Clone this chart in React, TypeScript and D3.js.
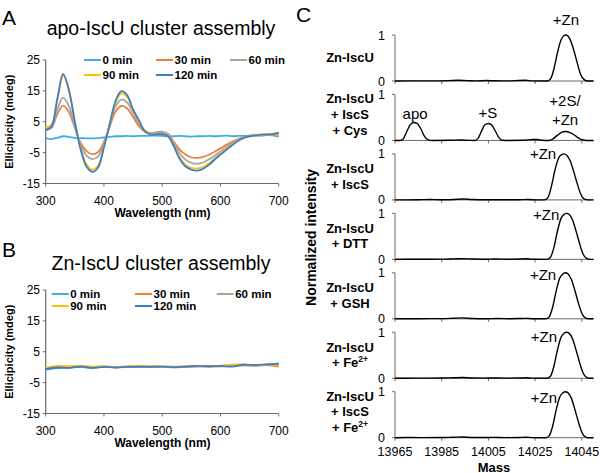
import React from 'react';
import * as d3 from 'd3';

const FONT = "'Liberation Sans', Arial, Helvetica, sans-serif";
const AXIS = '#6a6a6a';

// ---- CD spectra (panel A: apo-IscU) ----
const wavelengthsA = [
  300, 310, 320, 330, 340, 350, 360, 370, 380, 390, 400, 410, 420, 430, 440, 450, 460, 470, 480, 490, 500,
  510, 520, 530, 540, 550, 560, 570, 580, 590, 600, 610, 620, 630, 640, 650, 660, 670, 680, 690, 700,
];
const apo0 = [
  -0.3, -0.6, -0.2, 0.3, 0.1, -0.2, -0.3, -0.4, -0.4, -0.3, -0.1, 0.1, 0.3, 0.3, 0.4, 0.3, 0.4, 0.4, 0.5, 0.5, 0.4,
  0.3, 0.3, 0.4, 0.3, 0.2, 0.3, 0.3, 0.4, 0.3, 0.4, 0.5, 0.3, 0.4, 0.4, 0.5, 0.6, 0.5, 0.7, 0.6, 0.2,
];
const apo30 = [
  2.3, 3.0, 7.5, 10.2, 8.0, 3.0, -1.8, -4.5, -5.5, -4.8, -1.5, 3.5, 8.3, 10.1, 9.3, 6.5, 3.6, 1.8, 1.2, 1.4, 1.6,
  1.0, -1.5, -4.0, -5.6, -6.5, -6.7, -6.4, -5.7, -4.7, -3.6, -2.5, -1.5, -0.6, 0.0, 0.4, 0.5, 0.6, 0.7, 0.7, 0.8,
];
const apo60 = [
  2.5, 3.2, 9.0, 12.8, 10.0, 3.5, -2.5, -6.0, -7.1, -6.2, -2.0, 4.0, 10.0, 12.2, 11.2, 7.8, 4.3, 2.2, 1.4, 1.6, 1.8,
  1.0, -2.0, -5.2, -7.3, -8.3, -8.6, -8.2, -7.2, -6.0, -4.6, -3.3, -2.0, -0.9, -0.1, 0.4, 0.6, 0.8, 0.9, 1.1, 1.6,
];
const apo90 = [
  3.0, 4.0, 12.0, 19.9, 15.5, 5.0, -3.6, -8.8, -10.5, -9.2, -3.0, 4.2, 11.3, 14.2, 13.0, 8.7, 5.2, 2.1, 1.0, 1.0, 1.1,
  0.4, -2.8, -6.6, -8.9, -9.9, -10.1, -9.7, -8.5, -6.9, -5.3, -3.9, -2.4, -1.1, -0.2, 0.3, 0.6, 0.7, 0.8, 0.9, 1.1,
];
const apo120 = [
  2.3, 3.5, 12.5, 20.5, 15.0, 5.0, -4.0, -9.5, -11.2, -9.8, -3.3, 4.3, 11.8, 14.9, 13.6, 9.0, 5.5, 2.0, 0.9, 0.9, 1.0,
  0.3, -3.0, -7.0, -9.5, -10.5, -10.8, -10.3, -9.0, -7.3, -5.6, -4.2, -2.6, -1.2, -0.2, 0.3, 0.6, 0.8, 0.9, 1.0, 1.3,
];

// ---- CD spectra (panel B: Zn-IscU) ----
const wavelengthsB = [300, 320, 340, 360, 380, 400, 420, 440, 460, 480, 500, 520, 540, 560, 580, 600, 620, 640, 660, 680, 700];
const zn0 = [-0.8, -0.3, -0.2, 0.1, -0.3, 0.2, -0.1, 0.1, 0.0, 0.1, 0.2, 0.1, 0.2, 0.3, 0.4, 0.3, 0.5, 0.8, 0.6, 0.8, 1.2];
const zn30 = [-0.4, 0.2, 0.1, 0.3, 0.0, 0.2, 0.0, 0.1, 0.2, 0.0, 0.1, -0.1, 0.1, 0.3, 0.2, 0.3, 0.4, 0.6, 0.5, 0.7, 0.2];
const zn60 = [-0.3, 0.1, 0.0, 0.2, -0.1, 0.1, 0.0, 0.2, 0.1, 0.2, 0.1, 0.0, 0.2, 0.3, 0.3, 0.4, 0.5, 0.6, 0.6, 0.8, 0.8];
const zn90 = [-0.2, 0.4, 0.3, 0.5, 0.2, 0.3, 0.1, 0.3, 0.3, 0.3, 0.2, 0.2, 0.3, 0.4, 0.3, 0.5, 0.8, 0.9, 0.6, 0.9, 0.6];
const zn120 = [-0.6, -0.1, -0.2, 0.2, -0.2, 0.1, -0.1, 0.1, 0.2, 0.1, 0.2, 0.0, 0.2, 0.4, 0.3, 0.4, 0.2, 0.8, 0.7, 0.9, 1.1];

const timeLabels = ['0 min', '30 min', '60 min', '90 min', '120 min'];
const timeColors = ['#3daee9', '#f47c3c', '#a5a5a5', '#ffc000', '#3e7dcb'];
const cdTicksY = [25, 15, 5, -5, -15];
const cdTicksX = [300, 400, 500, 600, 700];

// ---- Mass spectra (panel C) ----
const msZn: [number, number][] = [
  [13965, 0], [13972, 0.003], [13980, 0.002], [13988, 0.008], [13992, 0.015], [13996, 0.008], [14000, 0.003],
  [14004, 0.01], [14008, 0.004], [14014, 0.003], [14018, 0.012], [14021, 0.015], [14024, 0.003], [14030, 0],
  [14031.5, 0.04], [14033, 0.25], [14034.5, 0.6], [14036, 0.88], [14037, 0.97], [14038, 1], [14039, 0.98],
  [14040, 0.9], [14041.5, 0.68], [14043, 0.4], [14044.5, 0.14], [14046, 0.03], [14047.5, 0], [14050, 0],
];
const msIscSCys: [number, number][] = [
  [13965, 0], [13967, 0], [13968.5, 0.03], [13970, 0.19], [13971.5, 0.34], [13973, 0.39], [13974.5, 0.37],
  [13976, 0.26], [13977.5, 0.1], [13979, 0.02], [13981, 0], [13988, 0.003], [13993, 0.01], [13997, 0.002],
  [13999, 0], [14000.5, 0.04], [14002, 0.2], [14003.5, 0.34], [14005, 0.37], [14006.5, 0.33], [14008, 0.2],
  [14009.5, 0.06], [14011, 0.005], [14013, 0], [14020, 0.003], [14024, 0.02], [14026, 0.022], [14028, 0.005],
  [14031, 0], [14032.5, 0.03], [14034.5, 0.11], [14036.5, 0.18], [14038, 0.195], [14040, 0.17], [14042, 0.11],
  [14044, 0.04], [14045.5, 0.01], [14047, 0], [14050, 0],
];
const msIscS: [number, number][] = [
  [13965, 0], [13975, 0.002], [13980, 0.008], [13984, 0.002], [13990, 0.01], [13994, 0.02], [13998, 0.008],
  [14003, 0.002], [14010, 0.003], [14018, 0.004], [14022, 0.008], [14026, 0], [14029, 0], [14030.5, 0.05],
  [14032, 0.3], [14033.5, 0.65], [14035, 0.9], [14036.5, 0.99], [14037.5, 1], [14038.5, 0.97], [14040, 0.85],
  [14041.5, 0.62], [14043, 0.36], [14044.5, 0.13], [14046, 0.02], [14047.5, 0], [14050, 0],
];
const msDTT: [number, number][] = [
  [13965, 0], [13975, 0.003], [13985, 0.004], [13990, 0.01], [13994, 0.016], [13999, 0.006], [14004, 0.002],
  [14008, 0.006], [14013, 0.002], [14018, 0.006], [14021, 0.012], [14024, 0.002], [14030, 0], [14031.5, 0.04],
  [14033, 0.25], [14034.5, 0.6], [14036, 0.88], [14037.5, 0.98], [14038.5, 1], [14039.5, 0.98], [14041, 0.86],
  [14042.5, 0.62], [14044, 0.35], [14045.5, 0.12], [14047, 0.02], [14048.5, 0], [14050, 0],
];
const msGSH: [number, number][] = [
  [13965, 0], [13975, 0.002], [13985, 0.004], [13990, 0.012], [13994, 0.02], [13998, 0.006], [14004, 0.002],
  [14009, 0.005], [14014, 0.002], [14018, 0.005], [14021, 0.01], [14024, 0.002], [14029.5, 0], [14031, 0.04],
  [14032.5, 0.25], [14034, 0.6], [14035.5, 0.88], [14037, 0.98], [14038, 1], [14039, 0.98], [14040.5, 0.86],
  [14042, 0.62], [14043.5, 0.35], [14045, 0.12], [14046.5, 0.02], [14048, 0], [14050, 0],
];
const msFe: [number, number][] = [
  [13965, 0], [13975, 0.002], [13985, 0.004], [13990, 0.01], [13994, 0.015], [13998, 0.005], [14003, 0.002],
  [14007, 0.006], [14012, 0.002], [14018, 0.004], [14021, 0.01], [14024, 0.002], [14030, 0], [14031.5, 0.04],
  [14033, 0.25], [14034.5, 0.6], [14036, 0.88], [14037.5, 0.98], [14038.5, 1], [14039.5, 0.98], [14041, 0.86],
  [14042.5, 0.62], [14044, 0.35], [14045.5, 0.12], [14047, 0.02], [14048.5, 0], [14050, 0],
];
const msIscSFe: [number, number][] = [
  [13965, 0], [13970, 0.004], [13976, 0.002], [13985, 0.003], [13990, 0.01], [13994, 0.015], [13998, 0.005],
  [14003, 0.003], [14007, 0.008], [14012, 0.002], [14018, 0.004], [14021, 0.01], [14024, 0.002], [14029.5, 0],
  [14031, 0.04], [14032.5, 0.25], [14034, 0.6], [14035.5, 0.88], [14037, 0.98], [14038, 1], [14039, 0.98],
  [14040.5, 0.86], [14042, 0.62], [14043.5, 0.35], [14045, 0.12], [14046.5, 0.02], [14048, 0], [14050, 0],
];

const msSpectra = [msZn, msIscSCys, msIscS, msDTT, msGSH, msFe, msIscSFe];
const msRowLabels = [
  ['Zn-IscU'],
  ['Zn-IscU', '+ IscS', '+ Cys'],
  ['Zn-IscU', '+ IscS'],
  ['Zn-IscU', '+ DTT'],
  ['Zn-IscU', '+ GSH'],
  ['Zn-IscU', '+ Fe2+'],
  ['Zn-IscU', '+ IscS', '+ Fe2+'],
];
// peak annotations: [panel, label, mass, intensity]
const msPeakLabels: [number, string, number, number][] = [
  [0, '+Zn', 14038.2, 1.22],
  [1, 'apo', 13973.6, 0.46],
  [1, '+S', 14004.8, 0.48],
  [1, '+2S/', 14037.8, 0.75],
  [1, '+Zn', 14037.8, 0.33],
  [2, '+Zn', 14028.4, 0.9],
  [3, '+Zn', 14029.7, 0.85],
  [4, '+Zn', 14028.4, 0.85],
  [5, '+Zn', 14028.8, 0.78],
  [6, '+Zn', 14028.8, 0.75],
];
const msTicksX = [13965, 13985, 14005, 14025, 14045];

type CDProps = {
  top: number;
  letter: string;
  letterY: number;
  title: string;
  titleY: number;
  wl: number[];
  series: number[][];
  legendCols: number[];
  legendRows: number[];
};

const CDPanel: React.FC<CDProps> = ({ top, letter, letterY, title, titleY, wl, series, legendCols, legendRows }) => {
  const x = d3.scaleLinear().domain([300, 700]).range([45.7, 278.7]);
  const y = d3.scaleLinear().domain([-15, 25]).range([top + 123.5, top]);
  const line = d3
    .line<number>()
    .x((_, i) => x(wl[i]))
    .y((d) => y(d))
    .curve(d3.curveCatmullRom.alpha(0.5));
  const bottom = y(-15);

  return (
    <g fontFamily={FONT}>
      <text x={2} y={letterY} fontSize={21}>{letter}</text>
      <text x={161} y={titleY} fontSize={19.5} textAnchor="middle">{title}</text>

      {/* axes */}
      <line x1={x(300)} x2={x(300)} y1={top} y2={bottom} stroke={AXIS} strokeWidth={1.2} />
      <line x1={x(300)} x2={x(700)} y1={bottom} y2={bottom} stroke={AXIS} strokeWidth={1.2} />
      {cdTicksY.map((t) => (
        <g key={t}>
          <line x1={x(300) - 3} x2={x(300)} y1={y(t)} y2={y(t)} stroke={AXIS} strokeWidth={1} />
          <text x={40} y={y(t)} dy="0.35em" fontSize={12} textAnchor="end">{t}</text>
        </g>
      ))}
      {cdTicksX.map((t) => (
        <g key={t}>
          <line x1={x(t)} x2={x(t)} y1={bottom} y2={bottom + 3} stroke={AXIS} strokeWidth={1} />
          <text x={x(t)} y={bottom + 21} fontSize={12} textAnchor="middle">{t}</text>
        </g>
      ))}
      <text x={162.5} y={top + 157} fontSize={12} fontWeight="bold" textAnchor="middle">Wavelength (nm)</text>
      <text
        transform={`translate(12.5,${(top + bottom) / 2}) rotate(-90)`}
        fontSize={11}
        fontWeight="bold"
        textAnchor="middle"
      >
        Ellicipicity (mdeg)
      </text>

      {series.map((s, i) => (
        <path key={i} d={line(s) ?? ''} fill="none" stroke={timeColors[i]} strokeWidth={1.8} />
      ))}

      {/* legend */}
      {timeLabels.map((lab, i) => {
        const lx = legendCols[i % 3];
        const ly = legendRows[Math.floor(i / 3)];
        return (
          <g key={lab}>
            <line x1={lx} x2={lx + 17} y1={ly} y2={ly} stroke={timeColors[i]} strokeWidth={2} />
            <text x={lx + 18.5} y={ly} dy="0.36em" fontSize={11.5} fontWeight="bold">{lab}</text>
          </g>
        );
      })}
    </g>
  );
};

const MSPanel: React.FC = () => {
  const x = d3.scaleLinear().domain([13965, 14050]).range([395, 593.5]);
  const step = 59.45;
  const zeroY = (i: number) => 81 + i * step;
  const yFor = (i: number) => d3.scaleLinear().domain([0, 1]).range([zeroY(i), zeroY(i) - 46]);
  const offsets: Record<number, number[]> = { 1: [-19], 2: [-26.5, -11], 3: [-37, -21.5, -5.5] };

  return (
    <g fontFamily={FONT}>
      <text x={296} y={22} fontSize={21}>C</text>
      <text
        transform={`translate(316,237.5) rotate(-90)`}
        fontSize={14}
        fontWeight="bold"
        textAnchor="middle"
      >
        Normalized intensity
      </text>
      {msSpectra.map((spec, i) => {
        const y = yFor(i);
        const line = d3
          .line<[number, number]>()
          .x((d) => x(d[0]))
          .y((d) => y(d[1]))
          .curve(d3.curveMonotoneX);
        const labels = msRowLabels[i];
        const offs = offsets[labels.length];
        return (
          <g key={i}>
            <line x1={x(13965)} x2={x(13965)} y1={y(0)} y2={y(1)} stroke={AXIS} strokeWidth={1} />
            <line x1={x(13965)} x2={x(14050)} y1={y(0)} y2={y(0)} stroke={AXIS} strokeWidth={1} />
            {[0, 1].map((t) => (
              <g key={t}>
                <line x1={x(13965) - 3} x2={x(13965)} y1={y(t)} y2={y(t)} stroke={AXIS} strokeWidth={1} />
                <text x={385} y={y(t)} dy="0.36em" fontSize={12.5} textAnchor="end">{t}</text>
              </g>
            ))}
            {msTicksX.map((t) => (
              <line key={t} x1={x(t)} x2={x(t)} y1={y(0)} y2={y(0) + 3} stroke={AXIS} strokeWidth={1} />
            ))}
            <path d={line(spec) ?? ''} fill="none" stroke="#000" strokeWidth={1.4} />
            {labels.map((lab, j) => {
              const isFe = lab.endsWith('2+');
              return (
                <text key={j} x={350} y={y(0) + offs[j]} fontSize={13} fontWeight="bold" textAnchor="middle">
                  {isFe ? (
                    <>
                      {lab.slice(0, -2)}
                      <tspan fontSize={8.5} dy={-5}>2+</tspan>
                    </>
                  ) : (
                    lab
                  )}
                </text>
              );
            })}
          </g>
        );
      })}
      {msPeakLabels.map(([p, lab, m, v], k) => (
        <text key={k} x={x(m)} y={yFor(p)(v)} fontSize={15} textAnchor="middle">{lab}</text>
      ))}
      {msTicksX.map((t) => (
        <text key={t} x={x(t)} y={456} fontSize={12.5} textAnchor="middle">{t}</text>
      ))}
      <text x={494} y={471.5} fontSize={13} fontWeight="bold" textAnchor="middle">Mass</text>
    </g>
  );
};

export default function App() {
  return (
    <svg
      width={600}
      height={473}
      viewBox="0 0 600 473"
      style={{ position: 'absolute', left: 0, top: 0, background: '#fff' }}
    >
      <CDPanel
        top={60}
        letter="A"
        letterY={25}
        title="apo-IscU cluster assembly"
        titleY={35}
        wl={wavelengthsA}
        series={[apo0, apo30, apo60, apo90, apo120]}
        legendCols={[84, 156, 230]}
        legendRows={[60, 75]}
      />
      <CDPanel
        top={290}
        letter="B"
        letterY={256.5}
        title="Zn-IscU cluster assembly"
        titleY={270}
        wl={wavelengthsB}
        series={[zn0, zn30, zn60, zn90, zn120]}
        legendCols={[51.7, 135, 216.7]}
        legendRows={[294, 306]}
      />
      <MSPanel />
    </svg>
  );
}
